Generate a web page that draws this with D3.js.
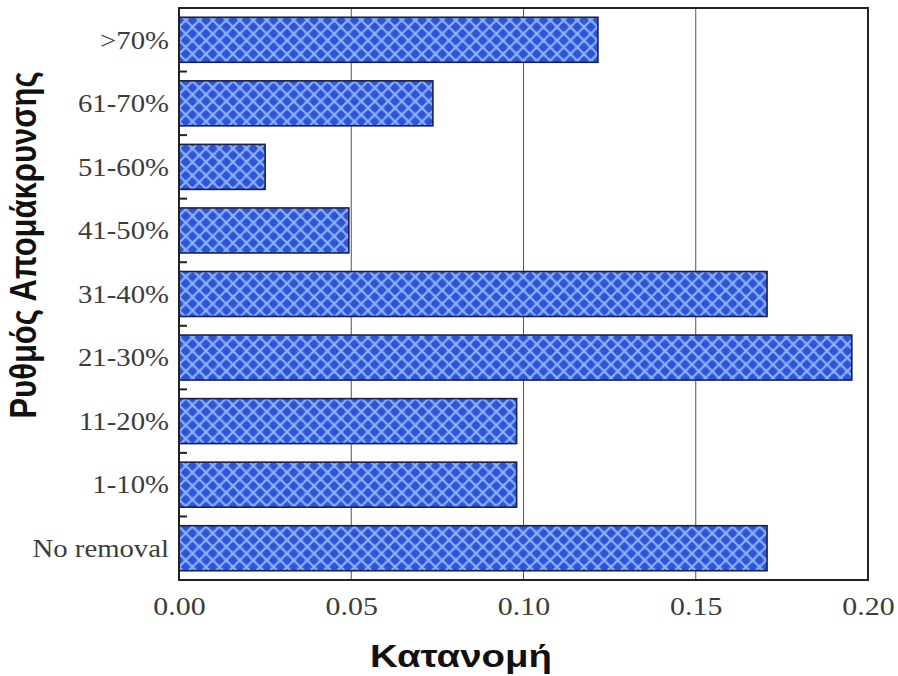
<!DOCTYPE html>
<html>
<head>
<meta charset="utf-8">
<script src="https://cdn.jsdelivr.net/npm/d3@7/dist/d3.min.js"></script>
<style>
  html, body { margin: 0; padding: 0; background: #fff; }
  svg { display: block; }
</style>
</head>
<body>
<svg id="chart" width="898" height="676"></svg>
<script>
// ---- Data ----
const categories = [">70%", "61-70%", "51-60%", "41-50%", "31-40%", "21-30%", "11-20%", "1-10%", "No removal"];
const values     = [0.1216, 0.0737, 0.0250, 0.0493, 0.1707, 0.1953, 0.0980, 0.0980, 0.1707];
const xTicks     = [0.00, 0.05, 0.10, 0.15, 0.20];
const xTickLabels = ["0.00", "0.05", "0.10", "0.15", "0.20"];
const xTitle = "Κατανομή";
const yTitle = "Ρυθμός Απομάκρυνσης";

// ---- Layout ----
const pL = 179, pR = 868, pT = 8, pB = 580;
const svg = d3.select("#chart");

const x = d3.scaleLinear().domain([0, 0.2]).range([pL, pR]);
const y = d3.scaleBand().domain(categories).range([pT, pB])
  .paddingInner(0.292).paddingOuter(0.146);

// ---- Pattern ----
const defs = svg.append("defs");
const P = 13.5;
const pat = defs.append("pattern").attr("id", "hatch")
  .attr("patternUnits", "userSpaceOnUse").attr("width", P).attr("height", P)
  .attr("x", pL).attr("y", 0);
pat.append("rect").attr("width", P).attr("height", P).attr("fill", "#4068e4");
[[P/2, 0], [0, P/2], [P, P/2], [P/2, P]].forEach(([cx, cy]) => {
  pat.append("circle").attr("cx", cx).attr("cy", cy).attr("r", 3.8).attr("fill", "#2d55d8");
});
pat.append("path").attr("d", `M0,0 L${P},${P} M${P},0 L0,${P}`)
  .attr("stroke", "#8fb3ff").attr("stroke-width", 1.9).attr("fill", "none");

// ---- Gridlines ----
svg.append("g").selectAll("line").data(xTicks.slice(1, -1)).join("line")
  .attr("x1", d => x(d)).attr("x2", d => x(d))
  .attr("y1", pT).attr("y2", pB)
  .attr("stroke", "#555").attr("stroke-width", 1);

// ---- Bars ----
svg.append("g").selectAll("rect").data(categories).join("rect")
  .attr("x", x(0))
  .attr("y", d => y(d))
  .attr("width", (d, i) => x(values[i]) - x(0))
  .attr("height", y.bandwidth())
  .attr("fill", "url(#hatch)")
  .attr("stroke", "#1b1f4d").attr("stroke-width", 1.6);

// ---- Band boundary ticks on left ----
const gap = y.step() - y.bandwidth();
svg.append("g").selectAll("line").data(categories.slice(0, -1)).join("line")
  .attr("x1", pL).attr("x2", pL + 8)
  .attr("y1", d => y(d) + y.bandwidth() + gap / 2)
  .attr("y2", d => y(d) + y.bandwidth() + gap / 2)
  .attr("stroke", "#222").attr("stroke-width", 2);

// ---- Frame ----
svg.append("rect").attr("x", pL).attr("y", pT)
  .attr("width", pR - pL).attr("height", pB - pT)
  .attr("fill", "none").attr("stroke", "#222").attr("stroke-width", 2);

// ---- X axis ----
const xAxis = svg.append("g").attr("transform", `translate(0,${pB})`)
  .call(d3.axisBottom(x).tickValues(xTicks).tickSize(0)
    .tickFormat((d, i) => xTickLabels[i]));
xAxis.select(".domain").remove();
xAxis.selectAll("text")
  .attr("y", 0).attr("dy", 0)
  .attr("transform", "translate(0,35) scale(1.15,1)")
  .attr("text-anchor", "middle")
  .attr("font-family", "'Liberation Serif', 'Times New Roman', serif")
  .attr("font-size", 26).attr("fill", "#3c3c3c");

// ---- Y axis ----
const yAxis = svg.append("g").attr("transform", `translate(${pL},0)`)
  .call(d3.axisLeft(y).tickSize(0));
yAxis.select(".domain").remove();
yAxis.selectAll("text")
  .attr("x", 0).attr("dy", "0.35em")
  .attr("transform", "translate(-10,0) scale(1.15,1)")
  .attr("text-anchor", "end")
  .attr("font-family", "'Liberation Serif', 'Times New Roman', serif")
  .attr("font-size", 25).attr("fill", "#3c3c3c");

// ---- Titles ----
svg.append("text")
  .attr("transform", `translate(461,667) scale(1.2,1)`)
  .attr("text-anchor", "middle")
  .attr("font-family", "'Liberation Sans', Arial, sans-serif")
  .attr("font-weight", "bold").attr("font-size", 32).attr("fill", "#111")
  .text(xTitle);

svg.append("text")
  .attr("transform", `translate(36,245) scale(1.2,1) rotate(-90)`)
  .attr("text-anchor", "middle")
  .attr("font-family", "'Liberation Sans', Arial, sans-serif")
  .attr("font-weight", "bold").attr("font-size", 31).attr("fill", "#111")
  .text(yTitle);
</script>
</body>
</html>
